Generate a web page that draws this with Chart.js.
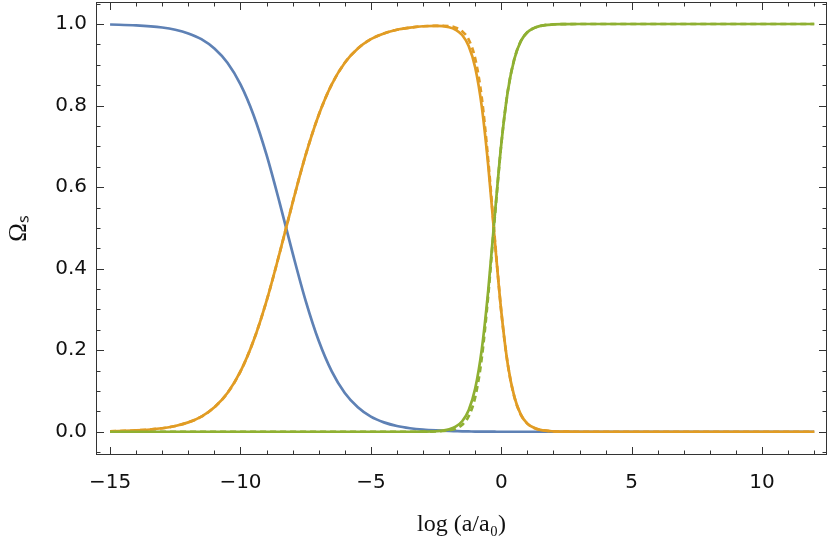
<!DOCTYPE html>
<html lang="en">
<head>
    <meta charset="UTF-8">
    <title>Density parameters vs log(a/a0)</title>
    <script src="https://cdn.jsdelivr.net/npm/chart.js"></script>
    <style>
        html, body { margin: 0; padding: 0; background: #fff; }
        #wrap { width: 830px; height: 551px; }
    </style>
</head>
<body>
    <div id="wrap"><canvas id="omegaChart" width="830" height="551"></canvas></div>

    <script>
        // x values, log(a/a0)
        const logA = [-15, -14, -13, -12.5, -12, -11.5, -11, -10.5, -10, -9.5, -9, -8.5, -8, -7.5, -7,
            -6.5, -6, -5.5, -5, -4.5, -4, -3.5, -3, -2.5, -2, -1.75, -1.5, -1.25, -1, -0.75, -0.5, -0.25,
            0, 0.25, 0.5, 0.75, 1, 1.25, 1.5, 2, 2.5, 3, 4, 6, 8, 10, 12];

        // radiation (blue)
        const omegaR = [0.9988, 0.9968, 0.9914, 0.986, 0.977, 0.963, 0.94, 0.905, 0.852, 0.777, 0.679, 0.562, 0.438, 0.321, 0.223,
            0.148, 0.095, 0.06, 0.037, 0.023, 0.014, 0.0086, 0.0052, 0.0032, 0.0019, 0.0015, 0.0011, 0.0008, 0.0005, 0.0003, 0.0002, 0.0001,
            0, 0, 0, 0, 0, 0, 0, 0, 0, 0, 0, 0, 0, 0, 0];

        // matter (orange)
        const omegaM = [0.0012, 0.0032, 0.0086, 0.0141, 0.023, 0.037, 0.06, 0.095, 0.148, 0.223, 0.321, 0.438, 0.562, 0.679, 0.777,
            0.852, 0.905, 0.94, 0.963, 0.977, 0.986, 0.991, 0.9945, 0.9955, 0.9922, 0.986, 0.973, 0.946, 0.8935, 0.7987, 0.653, 0.47,
            0.295, 0.165, 0.086, 0.042, 0.02, 0.01, 0.0046, 0.001, 0.0002, 0, 0, 0, 0, 0, 0];

        // dark energy (green)
        const omegaL = [0, 0, 0, 0, 0, 0, 0, 0, 0, 0, 0, 0, 0, 0, 0,
            0, 0, 0, 0, 0, 0, 0, 0.0003, 0.0013, 0.0059, 0.0124, 0.0258, 0.053, 0.106, 0.201, 0.347, 0.53,
            0.705, 0.835, 0.914, 0.958, 0.98, 0.99, 0.9954, 0.999, 0.9998, 1, 1, 1, 1, 1, 1];

        // dashed curves (second model)
        const omegaMAlt = [0.0012, 0.0032, 0.0086, 0.0141, 0.023, 0.037, 0.06, 0.095, 0.148, 0.223, 0.321, 0.438, 0.562, 0.679, 0.777,
            0.852, 0.905, 0.94, 0.963, 0.977, 0.986, 0.991, 0.9945, 0.9955, 0.995, 0.991, 0.982, 0.962, 0.915, 0.82, 0.665, 0.475,
            0.295, 0.165, 0.086, 0.042, 0.02, 0.01, 0.0046, 0.001, 0.0002, 0, 0, 0, 0, 0, 0];

        const omegaLAlt = [0, 0, 0, 0, 0, 0, 0, 0, 0, 0, 0, 0, 0, 0, 0,
            0, 0, 0, 0, 0, 0, 0, 0.0001, 0.0008, 0.0035, 0.0075, 0.017, 0.038, 0.085, 0.18, 0.335, 0.525,
            0.705, 0.835, 0.914, 0.958, 0.98, 0.99, 0.9954, 0.999, 0.9998, 1, 1, 1, 1, 1, 1];

        const xTicks = [-15, -10, -5, 0, 5, 10];
        const yTicks = [0, 0.2, 0.4, 0.6, 0.8, 1.0];

        const blue = '#5e81b5';
        const orange = '#e19c24';
        const green = '#8fb032';

        function pts(ys) {
            return logA.map((x, i) => ({ x: x, y: ys[i] }));
        }

        function line(data, color, order, dashed) {
            return {
                data: pts(data),
                borderColor: color,
                borderWidth: 2.7,
                borderDash: dashed ? [6, 4] : [],
                pointRadius: 0,
                fill: false,
                cubicInterpolationMode: 'monotone',
                order: order
            };
        }

        // frame with inward ticks on all four sides
        const frameTicks = {
            id: 'frameTicks',
            afterDatasetsDraw(chart) {
                const { ctx, chartArea: a, scales: { x, y } } = chart;
                ctx.save();
                ctx.strokeStyle = '#333';
                ctx.lineWidth = 1;
                ctx.strokeRect(a.left + 0.5, a.top + 0.5, a.width - 1, a.height - 1);
                ctx.beginPath();
                for (let v = -15; v <= 12; v++) {
                    const px = Math.round(x.getPixelForValue(v)) + 0.5;
                    const len = xTicks.includes(v) ? 8 : 4.5;
                    ctx.moveTo(px, a.bottom); ctx.lineTo(px, a.bottom - len);
                    ctx.moveTo(px, a.top); ctx.lineTo(px, a.top + len);
                }
                for (let k = -1; k <= 21; k++) {
                    const v = k * 0.05;
                    if (v < y.min || v > y.max) continue;
                    const py = Math.round(y.getPixelForValue(v)) + 0.5;
                    const len = (k % 4 === 0) ? 8 : 4.5;
                    ctx.moveTo(a.left, py); ctx.lineTo(a.left + len, py);
                    ctx.moveTo(a.right, py); ctx.lineTo(a.right - len, py);
                }
                ctx.stroke();
                ctx.restore();
            }
        };

        const tickFont = { family: 'DejaVu Sans', size: 20 };

        const ctx = document.getElementById('omegaChart').getContext('2d');
        const omegaChart = new Chart(ctx, {
            type: 'line',
            data: {
                datasets: [
                    line(omegaR, blue, 5, false),
                    line(omegaM, orange, 4, false),
                    line(omegaL, green, 3, false),
                    line(omegaMAlt, orange, 2, true),
                    line(omegaLAlt, green, 1, true)
                ]
            },
            options: {
                responsive: false,
                animation: false,
                layout: { padding: { top: 2, right: 3, left: 0, bottom: 0 } },
                plugins: { legend: { display: false }, tooltip: { enabled: false } },
                scales: {
                    x: {
                        type: 'linear',
                        min: -15.54,
                        max: 12.49,
                        grid: { display: false, drawTicks: false },
                        border: { display: false },
                        afterBuildTicks: s => { s.ticks = xTicks.map(v => ({ value: v })); },
                        afterFit: s => { s.height = 96; s.paddingLeft = 0; s.paddingRight = 0; },
                        ticks: {
                            font: tickFont,
                            color: '#111',
                            padding: 16,
                            maxRotation: 0,
                            callback: v => String(v).replace('-', '\u2212')
                        },
                        title: {
                            display: true,
                            text: 'log (a/a\u2080)',
                            font: { family: 'Liberation Serif', size: 24 },
                            color: '#111',
                            padding: { top: 0, bottom: 12 }
                        }
                    },
                    y: {
                        min: -0.057,
                        max: 1.054,
                        grid: { display: false, drawTicks: false },
                        border: { display: false },
                        afterBuildTicks: s => { s.ticks = yTicks.map(v => ({ value: v })); },
                        afterFit: s => { s.width = 96; s.paddingTop = 0; s.paddingBottom = 0; },
                        ticks: {
                            font: tickFont,
                            color: '#111',
                            padding: 9,
                            callback: v => v.toFixed(1)
                        },
                        title: {
                            display: true,
                            text: '\u03a9\u209b',
                            font: { family: 'Liberation Serif', size: 25 },
                            color: '#111',
                            padding: { top: 4, bottom: 0 }
                        }
                    }
                }
            },
            plugins: [frameTicks]
        });
    </script>
</body>
</html>
